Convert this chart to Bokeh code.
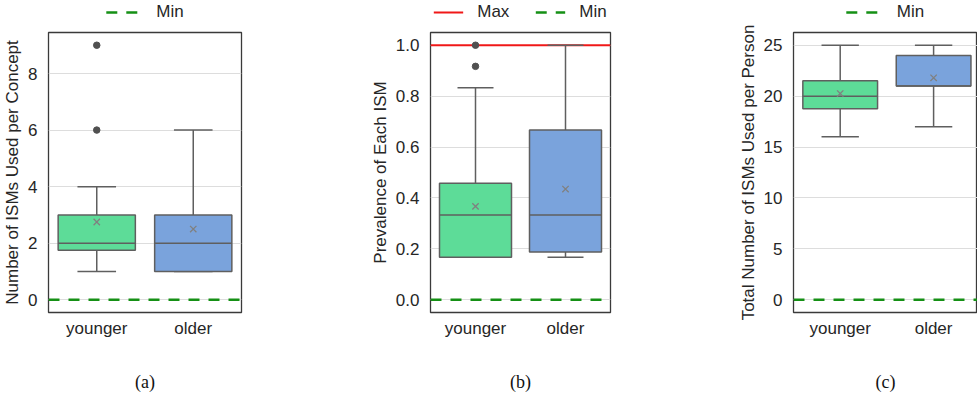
from bokeh.plotting import figure
from bokeh.layouts import row, column
from bokeh.models import Range1d, FixedTicker, Legend, LegendItem, NumeralTickFormatter
from bokeh.embed import file_html
from bokeh.resources import INLINE

# ---------------- data ----------------
categories = ["younger", "older"]
box_colors = ["#5ddc98", "#7aa3dc"]

# (a) Number of ISMs used per concept
a_low = [1, 1]
a_q1 = [1.75, 1]
a_med = [2, 2]
a_q3 = [3, 3]
a_high = [4, 6]
a_mean = [2.75, 2.5]
a_out_cat = ["younger", "younger"]
a_out_val = [6, 9]

# (b) Prevalence of each ISM
b_low = [0.167, 0.167]
b_q1 = [0.167, 0.1875]
b_med = [0.333, 0.333]
b_q3 = [0.458, 0.667]
b_high = [0.833, 1.0]
b_mean = [0.367, 0.435]
b_out_cat = ["younger", "younger"]
b_out_val = [0.917, 1.0]

# (c) Total number of ISMs used per person
c_low = [16, 17]
c_q1 = [18.75, 21]
c_med = [20, 21]
c_q3 = [21.5, 24]
c_high = [25, 25]
c_mean = [20.25, 21.8]
c_out_cat = []
c_out_val = []

min_value = 0
max_value_b = 1.0

a_ticks = [0, 2, 4, 6, 8]
b_ticks = [0.0, 0.2, 0.4, 0.6, 0.8, 1.0]
c_ticks = [0, 5, 10, 15, 20, 25]

FONT = "Liberation Sans"
TXT = "#262626"
EDGE = "#5f5f5f"
LEG_H = 22
H = 382
TOP = 10
BOTTOM = 92
MAX_COLOR = "#f01818"
MIN_COLOR = "#159015"
MIN_DASH = "11 9"


def legend_strip(width, bl, br, with_max, glyph_w=34, standoff=17, spacing=35):
    x0, x1 = -0.5, len(categories) - 0.5
    lf = figure(width=width, height=LEG_H, x_range=Range1d(x0, x1), y_range=Range1d(0, 1),
                output_backend="svg", toolbar_location=None, title=None,
                x_axis_location=None, y_axis_location=None,
                min_border_left=bl, min_border_right=br, min_border_top=0,
                min_border_bottom=0)
    lf.outline_line_color = None
    lf.xgrid.grid_line_color = None
    lf.ygrid.grid_line_color = None
    items = []
    if with_max:
        r_max = lf.line([x0, x1], [max_value_b, max_value_b], line_color=MAX_COLOR,
                        line_width=2, visible=False)
        items.append(LegendItem(label="Max", renderers=[r_max]))
    r_min = lf.line([x0, x1], [min_value, min_value], line_color=MIN_COLOR, line_width=2.5,
                    line_dash=MIN_DASH, visible=False)
    items.append(LegendItem(label="Min", renderers=[r_min]))
    leg = Legend(items=items, orientation="horizontal", location="top_center",
                 border_line_color=None, background_fill_alpha=0,
                 inactive_fill_alpha=0,
                 label_text_font=FONT, label_text_font_size="17px", label_text_color=TXT,
                 glyph_width=glyph_w, glyph_height=20, label_height=20,
                 label_standoff=standoff, spacing=spacing, padding=0, margin=2)
    lf.add_layout(leg)
    return lf


def panel(ylabel, caption, yr, ticks, low, q1, med, q3, high, mean, out_cat, out_val,
          width, bl, br, fmt=None, max_line=None, x_end=None):
    xs = list(range(len(categories)))
    x0, x1 = -0.5, len(categories) - 0.5
    p = figure(width=width, height=H,
               x_range=Range1d(x0, x_end if x_end is not None else x1),
               y_range=Range1d(*yr), title=None,
               output_backend="svg", toolbar_location=None,
               min_border_left=bl, min_border_right=br, min_border_top=TOP,
               min_border_bottom=BOTTOM)
    p.outline_line_color = "#3a3a3a"
    p.outline_line_width = 1.3
    p.background_fill_color = "white"
    p.border_fill_color = "white"
    p.xgrid.grid_line_color = None
    p.ygrid.grid_line_color = "#dddddd"
    p.ygrid.grid_line_width = 1

    # axes
    p.xaxis.ticker = FixedTicker(ticks=xs)
    p.xaxis.major_label_overrides = {i: c for i, c in enumerate(categories)}
    p.yaxis.ticker = FixedTicker(ticks=ticks)
    if fmt:
        p.yaxis.formatter = NumeralTickFormatter(format=fmt)
    for ax in (p.xaxis[0], p.yaxis[0]):
        ax.axis_line_color = None
        ax.major_tick_line_color = None
        ax.minor_tick_line_color = None
        ax.major_tick_out = 0
        ax.major_tick_in = 0
        ax.minor_tick_out = 0
        ax.minor_tick_in = 0
        ax.major_label_text_font = FONT
        ax.major_label_text_font_size = "17px"
        ax.major_label_text_color = TXT
    p.yaxis.major_label_standoff = 11
    p.xaxis.major_label_standoff = 6
    p.yaxis.axis_label = ylabel
    p.yaxis.axis_label_text_font = FONT
    p.yaxis.axis_label_text_font_size = "17px"
    p.yaxis.axis_label_text_font_style = "normal"
    p.yaxis.axis_label_text_color = TXT
    p.yaxis.axis_label_standoff = 3
    p.xaxis.axis_label = caption
    p.xaxis.axis_label_text_font = "Liberation Serif"
    p.xaxis.axis_label_text_font_size = "18px"
    p.xaxis.axis_label_text_font_style = "normal"
    p.xaxis.axis_label_text_color = "#111111"
    p.xaxis.axis_label_standoff = 31

    # reference lines
    if max_line is not None:
        p.line([x0, x1], [max_line, max_line], line_color=MAX_COLOR, line_width=2)
    p.line([x0, x1], [min_value, min_value], line_color=MIN_COLOR, line_width=2.5,
           line_dash=MIN_DASH)

    # whiskers
    p.segment(x0=xs, x1=xs, y0=q1, y1=low, line_color=EDGE, line_width=1.5)
    p.segment(x0=xs, x1=xs, y0=q3, y1=high, line_color=EDGE, line_width=1.5)
    # caps
    p.segment(x0=[x - 0.2 for x in xs], x1=[x + 0.2 for x in xs], y0=low, y1=low,
              line_color=EDGE, line_width=1.5)
    p.segment(x0=[x - 0.2 for x in xs], x1=[x + 0.2 for x in xs], y0=high, y1=high,
              line_color=EDGE, line_width=1.5)
    # boxes
    p.vbar(x=xs, width=0.8, bottom=q1, top=q3, fill_color=box_colors,
           line_color=EDGE, line_width=1.5)
    # medians
    p.segment(x0=[x - 0.4 for x in xs], x1=[x + 0.4 for x in xs], y0=med, y1=med,
              line_color=EDGE, line_width=1.5)
    # means
    p.scatter(x=xs, y=mean, marker="x", size=9, line_color="#808080", line_width=1.3)
    # outliers
    if out_val:
        ox = [categories.index(c) for c in out_cat]
        p.scatter(x=ox, y=out_val, marker="circle", size=6.5, fill_color="#505050",
                  line_color="#505050")
    return p


pa = panel("Number of ISMs Used per Concept", "(a)", (-0.45, 9.45), a_ticks,
           a_low, a_q1, a_med, a_q3, a_high, a_mean, a_out_cat, a_out_val,
           width=330, bl=47, br=89)
pb = panel("Prevalence of Each ISM", "(b)", (-0.05, 1.05), b_ticks,
           b_low, b_q1, b_med, b_q3, b_high, b_mean, b_out_cat, b_out_val,
           width=360, bl=100, br=80, fmt="0.0", max_line=max_value_b)
pc = panel("Total Number of ISMs Used per Person", "(c)", (-1.25, 26.25), c_ticks,
           c_low, c_q1, c_med, c_q3, c_high, c_mean, c_out_cat, c_out_val,
           width=287, bl=103, br=0, x_end=1.47)

la = legend_strip(330, 47, 89, False)
lb = legend_strip(360, 100, 80, True, glyph_w=30, standoff=14, spacing=26)
lc = legend_strip(287, 103, 0, False)

layout = row(column(la, pa, spacing=0), column(lb, pb, spacing=0),
             column(lc, pc, spacing=0), spacing=0)
open("out.html", "w").write(file_html(layout, INLINE))
